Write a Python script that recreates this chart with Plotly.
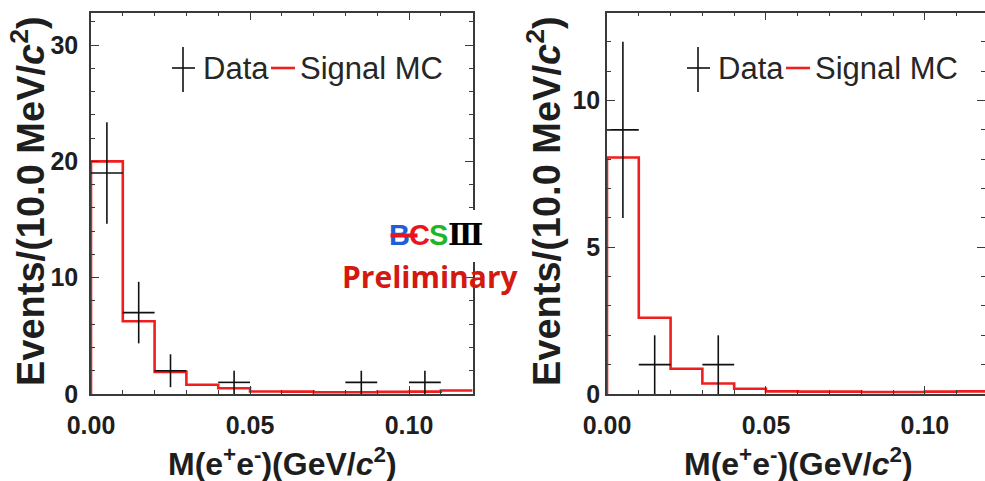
import numpy as np
import plotly.graph_objects as go

# ---- data -------------------------------------------------------------
bin_width = 0.01  # GeV/c^2

# left panel
left_data_x = [0.005, 0.015, 0.025, 0.045, 0.085, 0.105]
left_data_n = [19, 7, 2, 1, 1, 1]
left_mc = [20.0, 6.25, 1.9, 0.8, 0.5, 0.22, 0.2, 0.15, 0.15, 0.18, 0.2, 0.3]

# right panel
right_data_x = [0.005, 0.015, 0.035]
right_data_n = [9, 1, 1]
right_mc = [8.06, 2.6, 0.86, 0.36, 0.18, 0.09, 0.08, 0.08, 0.07, 0.07, 0.08, 0.09]

x_ticks = [0.00, 0.05, 0.10]
x_tick_text = ["0.00", "0.05", "0.10"]
left_y_ticks = [0, 10, 20, 30]
right_y_ticks = [0, 5, 10]

# ---- page geometry (pixels) -----------------------------------------
W, H = 985, 481


def px(x):
    return x / W


def py(y):
    return 1 - y / H


PLOT_TOP, PLOT_BOTTOM = 12.5, 394
LEFT_X0, LEFT_X1 = 91, 472.6
RIGHT_X0, RIGHT_X1 = 607, 985

AXIS_COLOR = "#3a3a3a"
TEXT_COLOR = "#1e1e1e"
MC_COLOR = "#f01e1e"
FONT = "Liberation Sans, Arial, Helvetica, sans-serif"


def step_xy(values):
    edges = np.arange(len(values) + 1) * bin_width
    xs = np.concatenate([[0.0], edges])
    ys = np.concatenate([[0.0], values, [values[-1]]])
    return xs, ys


fig = go.Figure()

for xa, ya, dx, dn, mc in [
    ("x", "y", left_data_x, left_data_n, left_mc),
    ("x2", "y2", right_data_x, right_data_n, right_mc),
]:
    sx, sy = step_xy(mc)
    fig.add_trace(go.Scatter(
        x=sx, y=sy, mode="lines", line=dict(color=MC_COLOR, width=2.6, shape="hv"),
        xaxis=xa, yaxis=ya, showlegend=False, hoverinfo="skip",
    ))
    fig.add_trace(go.Scatter(
        x=dx, y=dn, mode="markers", marker=dict(size=0.1, color="black"),
        error_x=dict(type="constant", value=bin_width / 2, width=0, thickness=1.6, color="#111"),
        error_y=dict(type="data", array=np.sqrt(dn), width=0, thickness=1.6, color="#111"),
        xaxis=xa, yaxis=ya, showlegend=False,
    ))

tickfont = dict(family=FONT, size=25, color=TEXT_COLOR, weight="bold")
common_axis = dict(
    showline=True, linecolor=AXIS_COLOR, linewidth=1.6, mirror="allticks",
    ticks="inside", ticklen=8, tickwidth=1.4, tickcolor=AXIS_COLOR,
    showgrid=False, zeroline=False, tickfont=tickfont, automargin=False,
)

fig.update_layout(
    width=W, height=H,
    margin=dict(l=0, r=0, t=0, b=0),
    paper_bgcolor="white", plot_bgcolor="white",
    showlegend=False,
    xaxis=dict(
        domain=[px(LEFT_X0), px(LEFT_X1)], range=[0, 0.12],
        tickvals=x_ticks, ticktext=x_tick_text, anchor="y",
        minor=dict(dtick=bin_width, ticklen=4, ticks="inside", tickcolor=AXIS_COLOR, tickwidth=1.2),
        ticklabelstandoff=8, **common_axis,
    ),
    yaxis=dict(
        domain=[py(PLOT_BOTTOM), py(PLOT_TOP)], range=[0, 32.8],
        tickvals=left_y_ticks, anchor="x",
        minor=dict(dtick=2, ticklen=4, ticks="inside", tickcolor=AXIS_COLOR, tickwidth=1.2),
        ticklabelstandoff=6, **common_axis,
    ),
    xaxis2=dict(
        domain=[px(RIGHT_X0), px(RIGHT_X1)], range=[0, 0.1189],
        tickvals=x_ticks, ticktext=x_tick_text, anchor="y2",
        minor=dict(dtick=bin_width, ticklen=4, ticks="inside", tickcolor=AXIS_COLOR, tickwidth=1.2),
        ticklabelstandoff=8, **common_axis,
    ),
    yaxis2=dict(
        domain=[py(PLOT_BOTTOM), py(PLOT_TOP)], range=[0, 13.0],
        tickvals=right_y_ticks, anchor="x2",
        minor=dict(dtick=1, ticklen=4, ticks="inside", tickcolor=AXIS_COLOR, tickwidth=1.2),
        ticklabelstandoff=0, **common_axis,
    ),
)

shapes = []
annotations = []

y_title = "Events/(10.0 MeV/<i>c</i><sup>2</sup>)"
x_title = "M(e<sup>+</sup>e<sup>-</sup>)(GeV/<i>c</i><sup>2</sup>)"
title_font = dict(family=FONT, size=38, color=TEXT_COLOR, weight="bold")
xtitle_font = dict(family=FONT, size=32, color=TEXT_COLOR, weight="bold")
legend_font = dict(family=FONT, size=31, color="#262626")

for x0, x1, off in [(LEFT_X0, LEFT_X1, 0), (RIGHT_X0, RIGHT_X1, 515)]:
    # axis titles
    annotations.append(dict(
        x=px(x0 - 63), y=py(201), xref="paper", yref="paper", text=y_title,
        textangle=-90, showarrow=False, font=title_font, xanchor="center", yanchor="middle",
    ))
    # legend: data cross
    shapes.append(dict(type="line", xref="paper", yref="paper",
                       x0=px(172 + off), x1=px(195 + off), y0=py(68), y1=py(68),
                       line=dict(color="#111", width=1.6)))
    shapes.append(dict(type="line", xref="paper", yref="paper",
                       x0=px(183 + off), x1=px(183 + off), y0=py(47), y1=py(92),
                       line=dict(color="#111", width=1.6)))
    annotations.append(dict(x=px(201 + off), y=py(68), xref="paper", yref="paper",
                            text="Data", showarrow=False, font=legend_font,
                            xanchor="left", yanchor="middle"))
    # legend: signal MC line
    shapes.append(dict(type="line", xref="paper", yref="paper",
                       x0=px(271 + off), x1=px(295 + off), y0=py(68), y1=py(68),
                       line=dict(color=MC_COLOR, width=2.6)))
    annotations.append(dict(x=px(298 + off), y=py(68), xref="paper", yref="paper",
                            text="Signal MC", showarrow=False, font=legend_font,
                            xanchor="left", yanchor="middle"))

annotations.append(dict(x=px(282), y=py(462), xref="paper", yref="paper", text=x_title,
                        showarrow=False, font=xtitle_font, xanchor="center", yanchor="middle"))
annotations.append(dict(x=px(798), y=py(462), xref="paper", yref="paper", text=x_title,
                        showarrow=False, font=xtitle_font, xanchor="center", yanchor="middle"))

# BESIII logo on a white patch
shapes.append(dict(type="rect", xref="paper", yref="paper", layer="above",
                   x0=px(386), x1=px(482), y0=py(210), y1=py(262),
                   fillcolor="white", line=dict(width=0)))
logo_font = "Liberation Sans, sans-serif"
for ch, cx, col in [("B", 399, "#1f5fd6"), ("C", 419, "#e8141e"), ("S", 438, "#1fb626")]:
    annotations.append(dict(x=px(cx), y=py(235), xref="paper", yref="paper", text=ch,
                            showarrow=False, xanchor="center", yanchor="middle", borderpad=0,
                            font=dict(family=logo_font, size=29, color=col, weight="bold")))
annotations.append(dict(x=px(465), y=py(235), xref="paper", yref="paper", text="Ⅲ",
                        showarrow=False, xanchor="center", yanchor="middle", borderpad=0,
                        font=dict(family="DejaVu Serif, serif", size=29, color="black", weight="bold")))
annotations.append(dict(x=px(404), y=py(235), xref="paper", yref="paper", text=" ",
                        showarrow=False, xanchor="center", yanchor="middle",
                        width=26, height=3, bgcolor="#e8141e", borderpad=0,
                        font=dict(size=1)))
annotations.append(dict(x=px(430), y=py(276), xref="paper", yref="paper", text="Preliminary",
                        showarrow=False, xanchor="center", yanchor="middle",
                        font=dict(family="Open Sans, sans-serif", size=30, color="#d41a10",
                                  weight="bold")))

fig.update_layout(shapes=shapes, annotations=annotations)
fig.write_html("out.html")
